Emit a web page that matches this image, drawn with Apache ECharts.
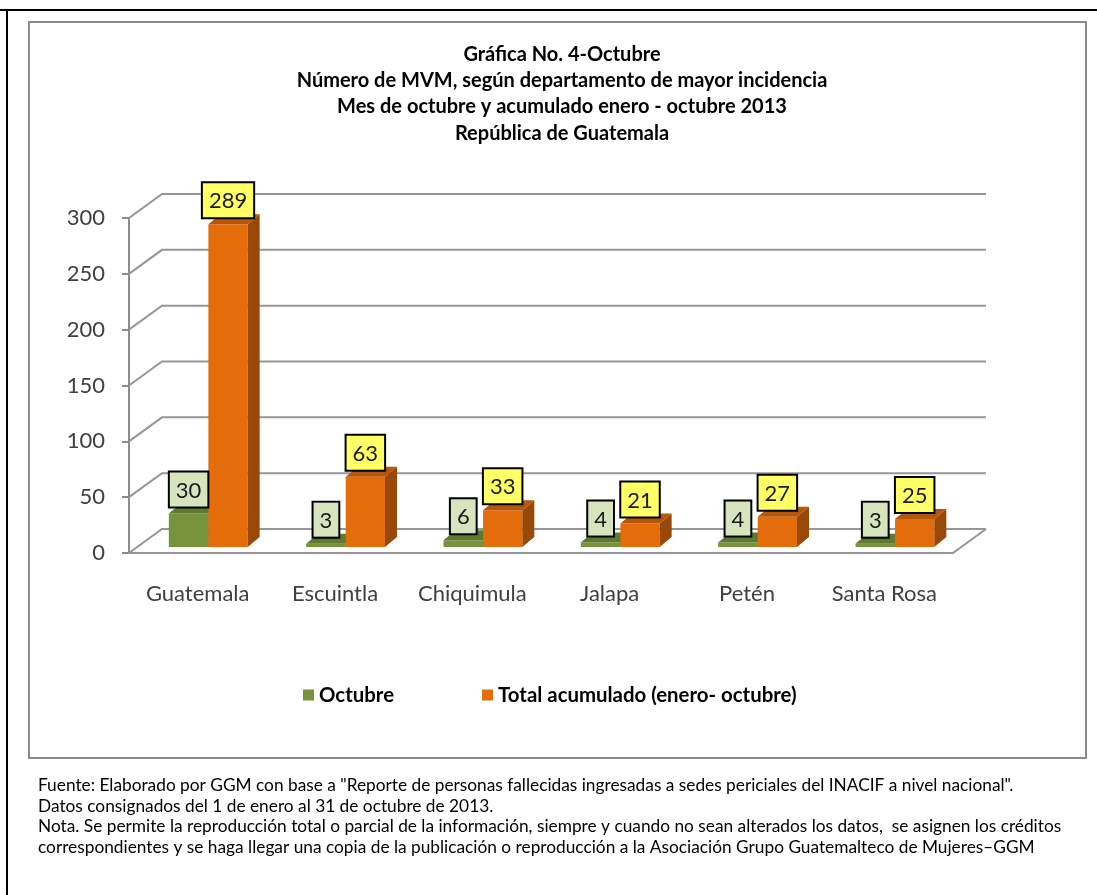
<!DOCTYPE html>
<html>
<head>
<meta charset="utf-8">
<script src="https://cdn.jsdelivr.net/npm/echarts@6/dist/echarts.min.js"></script>
<style>
html,body{margin:0;padding:0;background:#fff;}
#chart{width:1097px;height:895px;}
</style>
</head>
<body>
<div id="chart"></div>
<script>
const categories = ['Guatemala', 'Escuintla', 'Chiquimula', 'Jalapa', 'Petén', 'Santa Rosa'];
const octubre = [30, 3, 6, 4, 4, 3];
const totalAcumulado = [289, 63, 33, 21, 27, 25];
const yTicks = [0, 50, 100, 150, 200, 250, 300];
const seriesNames = ['Octubre', 'Total acumulado (enero- octubre)'];
const titleLines = [
  'Gráfica No. 4-Octubre',
  'Número de MVM, según departamento de mayor incidencia',
  'Mes de octubre y acumulado enero - octubre 2013',
  'República de Guatemala'
];
const footerLines = [
  'Fuente: Elaborado por GGM con base a "Reporte de personas fallecidas ingresadas a sedes periciales del INACIF a nivel nacional".',
  'Datos consignados del 1 de enero al 31 de octubre de 2013.',
  'Nota. Se permite la reproducción total o parcial de la información, siempre y cuando no sean alterados los datos,  se asignen los créditos',
  'correspondientes y se haga llegar una copia de la publicación o reproducción a la Asociación Grupo Guatemalteco de Mujeres\u2013GGM'
];

const FONT = 'Lato, "Open Sans", sans-serif';
const WALL_DX = 33, WALL_DY = -24;
const BAR_DX = 12, BAR_DY = -10;
const BAR_LIFT = -6;

const chart = echarts.init(document.getElementById('chart'));

function gridRender(params, api) {
  const v = api.value(0);
  const cs = params.coordSys;
  const y = api.coord([0, v])[1];
  const x0 = cs.x, x1 = cs.x + cs.width;
  const children = [{
    type: 'polyline',
    shape: { points: [[x0, y], [x0 + WALL_DX, y + WALL_DY], [x1 + WALL_DX, y + WALL_DY]] },
    style: { stroke: '#969696', lineWidth: 2, fill: null }
  }];
  if (v === 0) {
    children.push({
      type: 'polyline',
      shape: { points: [[x0, y], [x1, y], [x1 + WALL_DX, y + WALL_DY]] },
      style: { stroke: '#969696', lineWidth: 2, fill: null }
    });
  }
  return { type: 'group', children: children };
}

function makeBarRender(startFrac, endFrac, front, top, side, labelBg) {
  return function (params, api) {
    const i = api.value(0);
    const v = api.value(1);
    const base = api.coord([i, 0]);
    const tip = api.coord([i, v]);
    const band = api.size([1, 0])[0];
    const xl = base[0] + startFrac * band;
    const xr = base[0] + endFrac * band;
    const yb = base[1] + BAR_LIFT;
    const yt = tip[1] + BAR_LIFT;
    return {
      type: 'group',
      children: [
        { type: 'rect', shape: { x: xl, y: yt, width: xr - xl, height: yb - yt }, style: { fill: front } },
        { type: 'polygon', shape: { points: [[xl, yt], [xl + BAR_DX, yt + BAR_DY], [xr + BAR_DX, yt + BAR_DY], [xr, yt]] }, style: { fill: top } },
        { type: 'polygon', shape: { points: [[xr, yt], [xr + BAR_DX, yt + BAR_DY], [xr + BAR_DX, yb + BAR_DY], [xr, yb]] }, style: { fill: side } },
        {
          type: 'text', z2: 50,
          x: (xl + xr) / 2, y: yt - 7,
          style: {
            text: String(v), fill: '#1a1a1a', font: '22px ' + FONT,
            align: 'center', verticalAlign: 'bottom',
            backgroundColor: labelBg, borderColor: '#000', borderWidth: 2,
            padding: [5, 6, 3, 6], lineHeight: 26
          }
        }
      ]
    };
  };
}

const option = {
  animation: false,
  backgroundColor: '#fff',
  textStyle: { fontFamily: FONT },
  title: {
    text: titleLines.join('\n'),
    left: 557, top: 36, textAlign: 'center',
    textStyle: { fontFamily: FONT, fontSize: 20, fontWeight: 'bold', lineHeight: 26.3, color: '#000' }
  },
  legend: {
    left: 298, top: 680,
    itemWidth: 11, itemHeight: 11, itemGap: 88,
    icon: 'rect',
    data: seriesNames,
    textStyle: { fontFamily: FONT, fontSize: 20.4, fontWeight: 'bold', color: '#000' }
  },
  grid: { left: 129, top: 218, width: 824, height: 335, containLabel: false },
  xAxis: {
    type: 'category', data: categories,
    axisLine: { show: false }, axisTick: { show: false },
    axisLabel: { fontSize: 22, color: '#404040', margin: 30, fontFamily: FONT, interval: 0 }
  },
  yAxis: {
    type: 'value', min: 0, max: 300, interval: 50,
    axisLine: { show: true, lineStyle: { color: '#8c8c8c', width: 2 } },
    axisTick: { show: true, length: 7, lineStyle: { color: '#8c8c8c', width: 2 } },
    splitLine: { show: false },
    axisLabel: { fontSize: 22, color: '#404040', margin: 24, fontFamily: FONT }
  },
  graphic: [
    { type: 'rect', shape: { x: 29, y: 22, width: 1057, height: 736 }, style: { fill: null, stroke: '#8c8c8c', lineWidth: 2 } },
    { type: 'line', shape: { x1: 0, y1: 10, x2: 1097, y2: 10 }, style: { stroke: '#000', lineWidth: 2 } },
    { type: 'line', shape: { x1: 7, y1: 10, x2: 7, y2: 895 }, style: { stroke: '#000', lineWidth: 2 } },
    {
      type: 'text', left: 38, top: 775,
      style: { text: footerLines.join('\n'), font: '17.3px ' + FONT, fill: '#000', lineHeight: 20.7 }
    }
  ],
  series: [
    {
      type: 'custom', name: '_grid', z: 1, silent: true,
      renderItem: gridRender,
      data: yTicks.map(t => [t]),
      encode: { y: 0 }
    },
    {
      type: 'custom', name: seriesNames[0], z: 3,
      itemStyle: { color: '#77933c' },
      renderItem: makeBarRender(-0.21, 0.078, '#77933c', '#5f7a2e', '#4f6228', '#d7e4bd'),
      data: octubre.map((v, i) => [i, v]),
      encode: { x: 0, y: 1 }
    },
    {
      type: 'custom', name: seriesNames[1], z: 3,
      itemStyle: { color: '#e46c0a' },
      renderItem: makeBarRender(0.078, 0.364, '#e46c0a', '#b7560a', '#984807', '#ffff66'),
      data: totalAcumulado.map((v, i) => [i, v]),
      encode: { x: 0, y: 1 }
    }
  ]
};
chart.setOption(option);
</script>
</body>
</html>
